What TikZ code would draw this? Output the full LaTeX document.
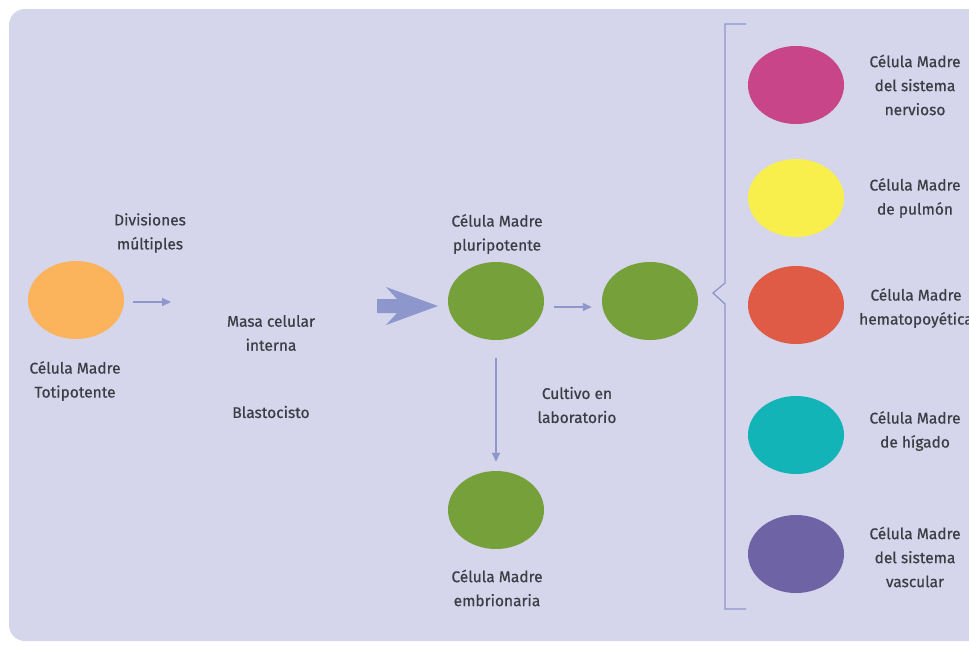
\documentclass[tikz,border=0pt]{standalone}
\usepackage{fontspec}
\setmainfont{Fira Sans}
\newfontfamily\lblfont{Fira Sans}[FakeBold=0.5]
\usetikzlibrary{shapes.geometric,arrows.meta}
\definecolor{bg}{HTML}{D5D5EC}
\definecolor{arr}{HTML}{8E97CC}
\definecolor{txt}{HTML}{3C3C44}
\definecolor{corange}{HTML}{FBB45C}
\definecolor{cgreen}{HTML}{75A03A}
\definecolor{cpink}{HTML}{C8458A}
\definecolor{cyellow}{HTML}{F8EE4C}
\definecolor{cred}{HTML}{E05B45}
\definecolor{cteal}{HTML}{12B4B8}
\definecolor{cpurple}{HTML}{6D63A5}
\tikzset{
  cell/.style={ellipse, minimum width=96pt, minimum height=78pt, inner sep=0pt, fill=#1},
  lbl/.style={text=txt, font=\lblfont\fontsize{15.5}{24}\selectfont, align=center, inner sep=0pt},
  smallarrow/.style={draw=arr, line width=1.4pt, -{Triangle[length=9pt,width=8pt]}},
  bracketline/.style={draw=arr, line width=1.3pt}
}
\begin{document}
\begin{tikzpicture}[x=1pt,y=-1pt]
\useasboundingbox (0,0) rectangle (969,646);
\clip (0,0) rectangle (969,646);
\fill[bg, rounded corners=16pt] (9,9) rectangle (1000,641);

% left part
\node[cell=corange] (toti) at (76,300) {};
\node[lbl] (totilbl) at (75,381) {Célula Madre\\Totipotente};
\node[lbl] (div) at (150,233) {Divisiones\\múltiples};
\coordinate (a1s) at (133,302);
\coordinate (a1e) at (171,302);
\draw[smallarrow] (a1s) -- (a1e);
\node[lbl] (masa) at (271,333) {Masa celular\\interna};
\node[lbl] (blasto) at (271,412) {Blastocisto};

% big arrow
\fill[arr] (377,299) -- (397,299) -- (386,287) -- (438,306) -- (386,325) -- (397,313) -- (377,313) -- cycle;

% middle
\node[cell=cgreen] (pluri) at (496,301) {};
\node[lbl] (plurilbl) at (497,234) {Célula Madre\\pluripotente};
\node[cell=cgreen] (cult) at (650,301) {};
\draw[smallarrow] ([xshift=10pt]pluri.east |- 0,307) -- ([xshift=-10pt]cult.west |- 0,307);
\node[lbl] (cultlbl) at (577,405) {Cultivo en\\laboratorio};
\node[cell=cgreen] (embr) at (496,510) {};
\node[lbl] (embrlbl) at (497,588) {Célula Madre\\embrionaria};
\draw[smallarrow] ([yshift=-18pt]pluri.south) -- ([yshift=9pt]embr.north);

% bracket
\coordinate (bt) at (746,24);
\coordinate (btl) at (725,24);
\coordinate (bm1) at (725,283);
\coordinate (bp) at (713,293);
\coordinate (bm2) at (725,304);
\coordinate (bbl) at (725,609);
\coordinate (bb) at (746,609);
\draw[bracketline] (bt) -- (btl) -- (bm1) -- (bp) -- (bm2) -- (bbl) -- (bb);

% right cells
\node[cell=cpink] (nerv) at (796,85) {};
\node[cell=cyellow] (pulm) at (796,198) {};
\node[cell=cred] (hema) at (796,305) {};
\node[cell=cteal] (higa) at (796,435) {};
\node[cell=cpurple] (vasc) at (796,554) {};

\node[lbl] (nervlbl) at (915,85) {Célula Madre\\del sistema\\nervioso};
\node[lbl] (pulmlbl) at (915,198) {Célula Madre\\de pulmón};
\node[lbl] (hemalbl) at (916,308) {Célula Madre\\hematopoyética};
\node[lbl] (higalbl) at (915,431) {Célula Madre\\de hígado};
\node[lbl] (vasclbl) at (915,557) {Célula Madre\\del sistema\\vascular};
\end{tikzpicture}
\end{document}
